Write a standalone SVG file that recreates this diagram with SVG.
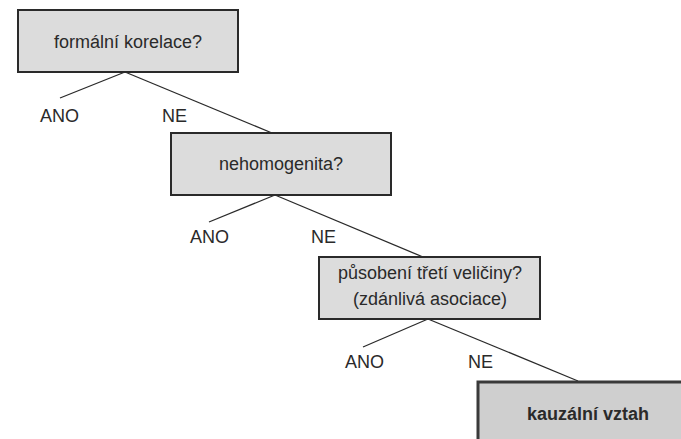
<svg xmlns="http://www.w3.org/2000/svg" width="681" height="439" viewBox="0 0 681 439">
<style>
.box{fill:#dcdcdc;stroke:#2a2a2a;stroke-width:2}
.final{fill:#cfcfcf;stroke:#3a3a3a;stroke-width:3}
.t{font-family:"Liberation Sans",Arial,sans-serif;font-size:18px;fill:#2a2a2a}
.c{text-anchor:middle}
.b{font-weight:bold}
.edge{stroke:#2a2a2a;stroke-width:1.3;fill:none}
</style>
<rect width="681" height="439" fill="#ffffff"/>
<g id="connectors">
<line class="edge" x1="125" y1="72" x2="60" y2="98"/>
<line class="edge" x1="125" y1="72" x2="272" y2="133"/>
<line class="edge" x1="275" y1="195" x2="209" y2="222"/>
<line class="edge" x1="275" y1="195" x2="423" y2="257"/>
<line class="edge" x1="428" y1="319" x2="363" y2="347"/>
<line class="edge" x1="428" y1="319" x2="578" y2="381"/>
</g>
<g id="labels">
<text class="t" x="40" y="122">ANO</text>
<text class="t" x="162" y="122">NE</text>
<text class="t" x="190" y="243">ANO</text>
<text class="t" x="311" y="243">NE</text>
<text class="t" x="345" y="368">ANO</text>
<text class="t" x="468" y="368">NE</text>
</g>
<g id="node1">
<rect class="box" x="18" y="10" width="220" height="62"/>
<text class="t c" x="128" y="48">formální korelace?</text>
</g>
<g id="node2">
<rect class="box" x="171" y="133" width="220" height="62"/>
<text class="t c" x="281" y="170">nehomogenita?</text>
</g>
<g id="node3">
<rect class="box" x="319" y="257" width="221" height="62"/>
<text class="t c" x="430" y="279">působení třetí veličiny?</text>
<text class="t c" x="430" y="305">(zdánlivá asociace)</text>
</g>
<g id="node4">
<rect class="final" x="478" y="382" width="215" height="70"/>
<text class="t c b" x="588" y="420">kauzální vztah</text>
</g>
</svg>
